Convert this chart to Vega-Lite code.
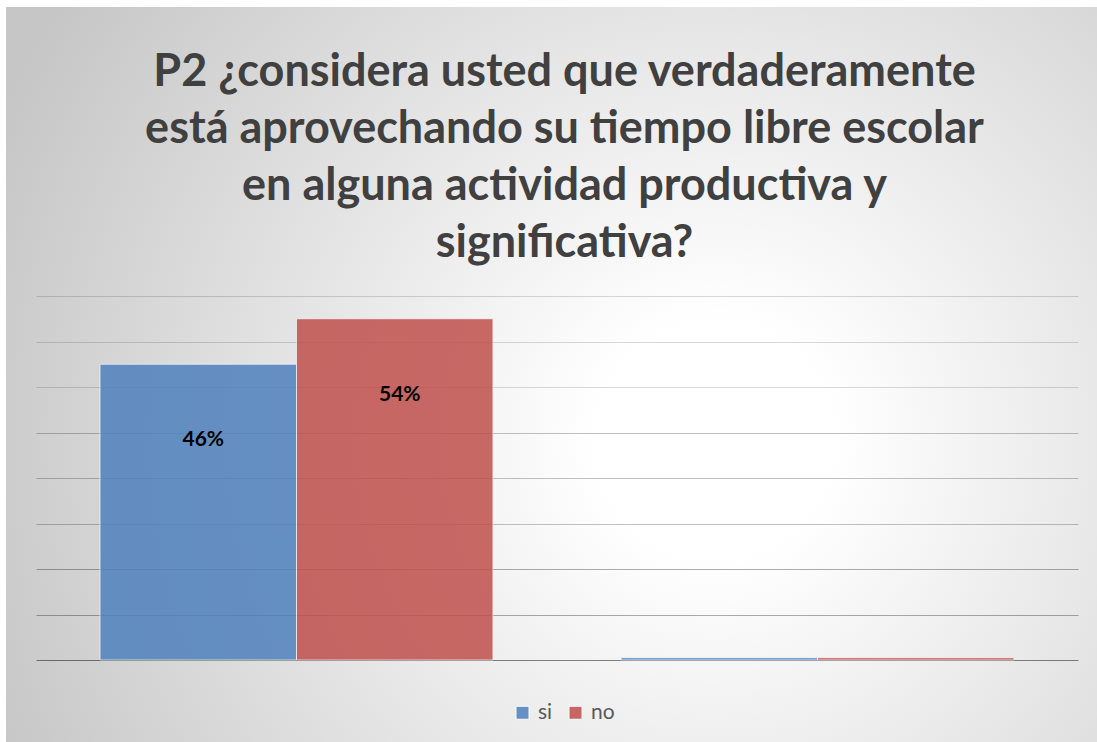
{
  "$schema": "https://vega.github.io/schema/vega-lite/v6.json",
  "width": 1091,
  "height": 735,
  "autosize": {"type": "none"},
  "padding": {"left": 6, "top": 7, "right": 0, "bottom": 0},
  "background": "#ffffff",
  "config": {
    "font": "Lato",
    "view": {
      "stroke": null,
      "fill": {
        "gradient": "radial",
        "x1": 0.65, "y1": 0.56, "r1": 0,
        "x2": 0.65, "y2": 0.56, "r2": 0.72,
        "stops": [
          {"offset": 0, "color": "#ffffff"},
          {"offset": 0.15, "color": "#ffffff"},
          {"offset": 1, "color": "#c6c6c6"}
        ]
      }
    }
  },
  "title": {
    "text": [
      "P2 ¿considera usted que verdaderamente",
      "está aprovechando su tiempo libre escolar",
      "en alguna actividad productiva y",
      "significativa?"
    ],
    "font": "Lato",
    "fontSize": 45,
    "fontWeight": "bold",
    "color": "#404040",
    "lineHeight": 57,
    "anchor": "middle",
    "frame": "group",
    "offset": -259,
    "dx": 13
  },
  "data": {
    "values": [
      {"grupo": "A", "respuesta": "si", "valor": 13, "etiqueta": "46%"},
      {"grupo": "A", "respuesta": "no", "valor": 15, "etiqueta": "54%"},
      {"grupo": "B", "respuesta": "si", "valor": 0.1},
      {"grupo": "B", "respuesta": "no", "valor": 0.1}
    ]
  },
  "encoding": {
    "x": {
      "field": "grupo",
      "type": "nominal",
      "axis": null,
      "scale": {"range": [30, 1072], "paddingInner": 0, "paddingOuter": 0}
    },
    "xOffset": {
      "field": "respuesta",
      "type": "nominal",
      "sort": ["si", "no"],
      "scale": {"paddingInner": 0, "paddingOuter": 0.326}
    },
    "y": {
      "field": "valor",
      "type": "quantitative",
      "scale": {"domain": [0, 16], "range": [653, 289], "nice": false, "zero": true},
      "axis": {
        "values": [0, 2, 4, 6, 8, 10, 12, 14, 16],
        "grid": true,
        "domain": false,
        "ticks": false,
        "labels": false,
        "title": null,
        "gridColor": "#000000",
        "gridWidth": 1,
        "gridOpacity": {
          "condition": [
            {"test": "datum.value === 0", "value": 0.48},
            {"test": "datum.value <= 4", "value": 0.32},
            {"test": "datum.value <= 10", "value": 0.24}
          ],
          "value": 0.15
        }
      }
    }
  },
  "layer": [
    {
      "mark": {"type": "bar", "opacity": 0.85, "stroke": "#ffffff", "strokeWidth": 1, "strokeOpacity": 0.7},
      "encoding": {
        "color": {
          "field": "respuesta",
          "type": "nominal",
          "sort": ["si", "no"],
          "scale": {"domain": ["si", "no"], "range": ["#4f81bd", "#c0504d"]},
          "legend": {
            "orient": "none",
            "legendX": 506,
            "legendY": 695,
            "direction": "horizontal",
            "title": null,
            "symbolType": "square",
            "symbolSize": 169,
            "symbolOpacity": 0.85,
            "symbolStrokeColor": "#ffffff",
            "symbolStrokeWidth": 1,
            "labelFont": "Lato",
            "labelFontSize": 21,
            "labelColor": "#595959",
            "labelOffset": 5,
            "columnPadding": 12
          }
        }
      }
    },
    {
      "transform": [{"filter": "isValid(datum.etiqueta)"}],
      "mark": {"type": "text", "font": "Lato", "fontWeight": "bold", "fontSize": 21, "color": "#000000", "dy": 76, "dx": 5, "baseline": "middle"},
      "encoding": {"text": {"field": "etiqueta"}}
    }
  ]
}
